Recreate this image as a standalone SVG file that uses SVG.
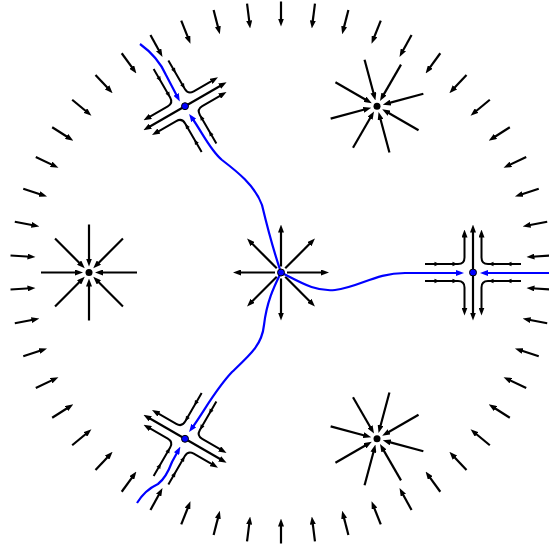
<svg xmlns="http://www.w3.org/2000/svg" xmlns:xlink="http://www.w3.org/1999/xlink" width="549" height="550" viewBox="0 0 549 550">
<style>
.k{stroke:#000;stroke-width:2.2;fill:none;marker-end:url(#ah)}
.l{stroke:#000;stroke-width:2;fill:none;marker-end:url(#ah)}
.b{stroke:#0000ff;stroke-width:2.2;fill:none;marker-end:url(#bh)}
.sm{fill:#000}
.dk{fill:#000}
.db{fill:#0000ff;stroke:#000;stroke-width:1}
</style>
<defs>
<marker id="ah" viewBox="0 0 8 6" refX="3" refY="3" markerWidth="8" markerHeight="6" markerUnits="userSpaceOnUse" orient="auto"><path d="M0,0 L8,3 L0,6 z" fill="#000"/></marker>
<marker id="bh" viewBox="0 0 8 6" refX="3" refY="3" markerWidth="8" markerHeight="6" markerUnits="userSpaceOnUse" orient="auto"><path d="M0,0 L8,3 L0,6 z" fill="#0000ff"/></marker>
<path id="sa" class="sm" d="M2.5,0 L-2.5,-2.2 L-2.5,2.2 z"/>
<line id="ra" class="k" x1="0" y1="-271" x2="0" y2="-251"/>
<g id="sink">
<line class="k" x1="48" y1="0" x2="11" y2="0"/>
<line class="k" x1="33.94" y1="33.94" x2="7.78" y2="7.78"/>
<line class="k" x1="0" y1="48" x2="0" y2="11"/>
<line class="k" x1="-33.94" y1="33.94" x2="-7.78" y2="7.78"/>
<line class="k" x1="-48" y1="0" x2="-11" y2="0"/>
<line class="k" x1="-33.94" y1="-33.94" x2="-7.78" y2="-7.78"/>
<line class="k" x1="0" y1="-48" x2="0" y2="-11"/>
<line class="k" x1="33.94" y1="-33.94" x2="7.78" y2="-7.78"/>
</g>
<g id="saddle">
<line class="k" x1="0" y1="0" x2="0" y2="-43"/>
<line class="k" x1="0" y1="0" x2="0" y2="43"/>
<path class="l" d="M-48,-8.5 H-15 Q-8.5,-8.5 -8.5,-15 V-38"/>
<path class="l" d="M48,-8.5 H15 Q8.5,-8.5 8.5,-15 V-38"/>
<path class="l" d="M-48,8.5 H-15 Q-8.5,8.5 -8.5,15 V38"/>
<path class="l" d="M48,8.5 H15 Q8.5,8.5 8.5,15 V38"/>
<use xlink:href="#sa" transform="translate(-36,-8.5)"/>
<use xlink:href="#sa" transform="translate(-18,-8.5)"/>
<use xlink:href="#sa" transform="translate(-36,8.5)"/>
<use xlink:href="#sa" transform="translate(-18,8.5)"/>
<use xlink:href="#sa" transform="translate(36,-8.5) rotate(180)"/>
<use xlink:href="#sa" transform="translate(18,-8.5) rotate(180)"/>
<use xlink:href="#sa" transform="translate(36,8.5) rotate(180)"/>
<use xlink:href="#sa" transform="translate(18,8.5) rotate(180)"/>
</g>
</defs>
<rect width="549" height="550" fill="#fff"/>

<g id="outer-ring" transform="translate(281,272.5)">
<use xlink:href="#ra" transform="rotate(0)"/><use xlink:href="#ra" transform="rotate(7.2)"/><use xlink:href="#ra" transform="rotate(14.4)"/><use xlink:href="#ra" transform="rotate(21.6)"/><use xlink:href="#ra" transform="rotate(28.8)"/>
<use xlink:href="#ra" transform="rotate(36)"/><use xlink:href="#ra" transform="rotate(43.2)"/><use xlink:href="#ra" transform="rotate(50.4)"/><use xlink:href="#ra" transform="rotate(57.6)"/><use xlink:href="#ra" transform="rotate(64.8)"/>
<use xlink:href="#ra" transform="rotate(72)"/><use xlink:href="#ra" transform="rotate(79.2)"/><use xlink:href="#ra" transform="rotate(86.4)"/><use xlink:href="#ra" transform="rotate(93.6)"/><use xlink:href="#ra" transform="rotate(100.8)"/>
<use xlink:href="#ra" transform="rotate(108)"/><use xlink:href="#ra" transform="rotate(115.2)"/><use xlink:href="#ra" transform="rotate(122.4)"/><use xlink:href="#ra" transform="rotate(129.6)"/><use xlink:href="#ra" transform="rotate(136.8)"/>
<use xlink:href="#ra" transform="rotate(144)"/><use xlink:href="#ra" transform="rotate(151.2)"/><use xlink:href="#ra" transform="rotate(158.4)"/><use xlink:href="#ra" transform="rotate(165.6)"/><use xlink:href="#ra" transform="rotate(172.8)"/>
<use xlink:href="#ra" transform="rotate(180)"/><use xlink:href="#ra" transform="rotate(187.2)"/><use xlink:href="#ra" transform="rotate(194.4)"/><use xlink:href="#ra" transform="rotate(201.6)"/><use xlink:href="#ra" transform="rotate(208.8)"/>
<use xlink:href="#ra" transform="rotate(216)"/><use xlink:href="#ra" transform="rotate(223.2)"/><use xlink:href="#ra" transform="rotate(230.4)"/><use xlink:href="#ra" transform="rotate(237.6)"/><use xlink:href="#ra" transform="rotate(244.8)"/>
<use xlink:href="#ra" transform="rotate(252)"/><use xlink:href="#ra" transform="rotate(259.2)"/><use xlink:href="#ra" transform="rotate(266.4)"/><use xlink:href="#ra" transform="rotate(273.6)"/><use xlink:href="#ra" transform="rotate(280.8)"/>
<use xlink:href="#ra" transform="rotate(288)"/><use xlink:href="#ra" transform="rotate(295.2)"/><use xlink:href="#ra" transform="rotate(302.4)"/><use xlink:href="#ra" transform="rotate(309.6)"/><use xlink:href="#ra" transform="rotate(316.8)"/>
<use xlink:href="#ra" transform="rotate(324)"/><use xlink:href="#ra" transform="rotate(331.2)"/><use xlink:href="#ra" transform="rotate(338.4)"/><use xlink:href="#ra" transform="rotate(345.6)"/><use xlink:href="#ra" transform="rotate(352.8)"/>
</g>

<g id="source-center" transform="translate(281,272.5)">
<line class="k" x1="6" y1="0" x2="43" y2="0"/>
<line class="k" x1="4.24" y1="4.24" x2="30.41" y2="30.41"/>
<line class="k" x1="0" y1="6" x2="0" y2="43"/>
<line class="k" x1="-4.24" y1="4.24" x2="-30.41" y2="30.41"/>
<line class="k" x1="-6" y1="0" x2="-43" y2="0"/>
<line class="k" x1="-4.24" y1="-4.24" x2="-30.41" y2="-30.41"/>
<line class="k" x1="0" y1="-6" x2="0" y2="-43"/>
<line class="k" x1="4.24" y1="-4.24" x2="30.41" y2="-30.41"/>
</g>

<g id="sink-left" transform="translate(89,272.5)">
<use xlink:href="#sink"/>
<circle class="dk" r="3.5"/>
</g>
<g id="sink-upper-right" transform="translate(377,106.2)">
<use xlink:href="#sink" transform="rotate(-15)"/>
<circle class="dk" r="3.5"/>
</g>
<g id="sink-lower-right" transform="translate(377,438.8)">
<use xlink:href="#sink" transform="rotate(15)"/>
<circle class="dk" r="3.5"/>
</g>

<g id="saddle-right" transform="translate(473,272.5)">
<use xlink:href="#saddle"/>
</g>
<g id="saddle-upper-left" transform="translate(185,106.2)">
<use xlink:href="#saddle" transform="rotate(60)"/>
</g>
<g id="saddle-lower-left" transform="translate(185,438.8)">
<use xlink:href="#saddle" transform="rotate(-60)"/>
</g>

<g id="connectors">
<path class="b" d="M281,272.5 C300,282 315,292 335,290 C360,287 375,273 405,273 L459,273"/>
<path class="b" d="M549,273 L485,273"/>
<path class="b" d="M281,272.5 C275,255 268,230 262,205 C255,185 235,170 222,160 C210,150 202,132 192,118"/>
<path class="b" d="M140,44 Q158,57 166,75 L177.5,97"/>
<path class="b" d="M281,272.5 C275,285 267,300 264,325 C262,345 250,355 232,372 C215,390 205,410 192,428"/>
<path class="b" d="M137,503 Q145,490 158,484 Q166,478 172,462 L178,451"/>
</g>

<g id="dots">
<circle class="db" cx="281" cy="272.5" r="3.5"/>
<circle class="db" cx="473" cy="272.5" r="3.5"/>
<circle class="db" cx="185" cy="106.2" r="3.5"/>
<circle class="db" cx="185" cy="438.8" r="3.5"/>
</g>
</svg>
